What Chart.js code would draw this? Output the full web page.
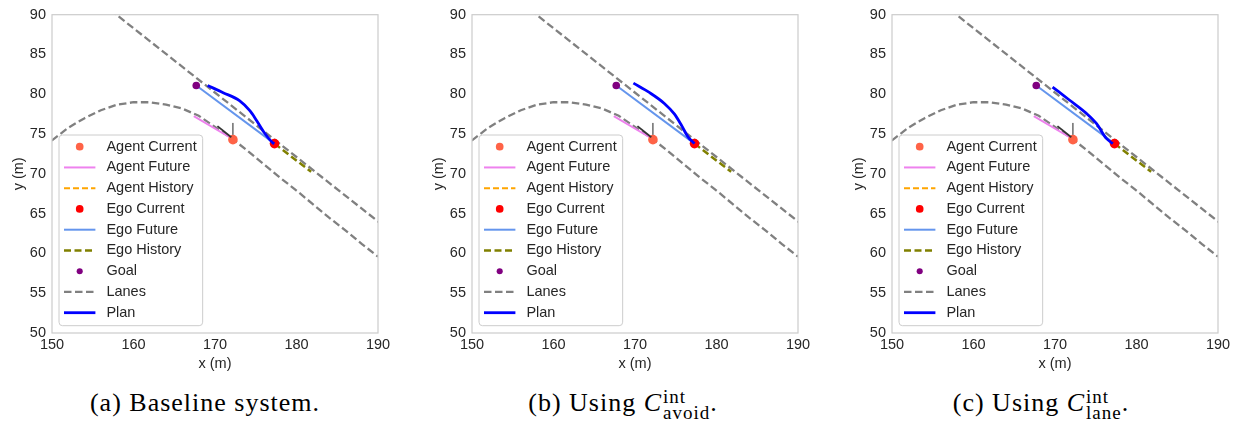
<!DOCTYPE html>
<html>
<head>
<meta charset="utf-8">
<script src="https://cdn.jsdelivr.net/npm/chart.js@4.4.1/dist/chart.umd.min.js"></script>
<style>
  body { margin: 0; background: #fff; width: 1238px; height: 426px; overflow: hidden; position: relative; }
  .panel { position: absolute; top: 0; width: 420px; height: 380px; }
  .cap { position: absolute; top: 388px; width: 420px; text-align: center; white-space: nowrap;
         font-family: 'Liberation Serif', 'Times New Roman', serif; font-size: 26px; line-height: 30px;
         letter-spacing: 1px; color: #000; }
  .ss { display: inline-block; vertical-align: -8px; font-size: 19px; line-height: 16px; letter-spacing: 1px; text-align: left; margin-left: 1px; }
  .ss span { display: block; }
</style>
</head>
<body>
<canvas id="chartA" class="panel" width="420" height="380" style="left:0px"></canvas>
<canvas id="chartB" class="panel" width="420" height="380" style="left:420px"></canvas>
<canvas id="chartC" class="panel" width="420" height="380" style="left:840px"></canvas>
<div class="cap" style="left:-5px">(a) Baseline system.</div>
<div class="cap" style="left:413px">(b) Using <i>C</i><span class="ss"><span>int</span><span>avoid</span></span>.</div>
<div class="cap" style="left:831px">(c) Using <i>C</i><span class="ss"><span>int</span><span>lane</span></span>.</div>
<script>
const FONT = "'Liberation Sans', Arial, sans-serif";
const TEXT = '#262626';

// axis ranges
const xRange = [150, 190];
const yRange = [50, 90];

// scene (same in all three panels), [x, y] in metres
const agentCurrent = [[172.2, 74.3]];
const agentFuture = [[167.4, 77.25], [171.8, 74.6]];
const agentHistory = [[172.1, 74.4], [172.6, 74.05]];
const egoCurrent = [[177.3, 73.8]];
const egoFuture = [[167.7, 81.1], [177.3, 73.8]];
const egoHistory = [[177.3, 73.8], [181.8, 70.25]];
const goal = [[167.7, 81.1]];
const laneUpper = [[155, 92.35], [192, 62.4]];
const laneLower = [[148, 72.3], [150, 74.2], [152, 75.8], [154, 77.0], [156, 78.0], [158, 78.7],
  [160, 79.0], [162, 79.0], [164, 78.7], [166, 78.2], [168, 77.3], [170, 75.9], [172, 74.5],
  [174, 72.9], [176, 71.2], [178, 69.5], [180, 67.9], [182, 66.2], [184, 64.5], [186, 62.9],
  [188, 61.2], [190, 59.6], [192, 57.9]];
const headingArrow = [[170.3, 76.0], [172.0, 74.6]];
const velocityArrow = [[172.2, 74.9], [172.2, 76.4]];

// the plan differs per panel
const planA = [[169.1, 81.1], [171.0, 80.2], [173.0, 79.2], [174.3, 77.9], [175.1, 76.7],
  [176.1, 75.1], [177.1, 73.9], [177.3, 73.8]];
const planB = [[169.8, 81.4], [171.8, 80.2], [173.6, 78.85], [174.85, 77.5], [175.7, 76.1],
  [176.5, 74.65], [177.3, 73.8]];
const planC = [[169.7, 80.9], [171.8, 79.25], [173.85, 77.6], [175.1, 76.3], [176.3, 74.45],
  [177.1, 73.8]];

const pts = arr => arr.map(p => ({ x: p[0], y: p[1] }));

function line(label, data, color, width, dash, order, extra) {
  return Object.assign({ label, data: pts(data), showLine: true, borderColor: color, backgroundColor: color,
    borderWidth: width, borderDash: dash || [], pointRadius: 0, order, tension: 0 }, extra || {});
}
function dots(label, data, color, r, order) {
  return { label, data: pts(data), showLine: false, backgroundColor: color, borderColor: color,
    borderWidth: 0, pointRadius: r, legendRadius: r * 0.8, order };
}

function makeDatasets(plan) {
  return [
    dots('Agent Current', agentCurrent, '#FF6347', 4.8, 2),
    line('Agent Future', agentFuture, '#EE82EE', 2, null, 7),
    line('Agent History', agentHistory, '#FFA500', 2, [6, 3], 5),
    dots('Ego Current', egoCurrent, '#FF0000', 4.8, 3),
    line('Ego Future', egoFuture, '#6495ED', 2, null, 6),
    line('Ego History', egoHistory, '#808000', 2.5, [7, 3.5], 8),
    dots('Goal', goal, '#800080', 3.8, 4),
    line('Lanes', laneUpper, '#808080', 2.3, [7.5, 3.5], 10),
    line('Plan', plan, '#0000FF', 2.8, null, 0, { cubicInterpolationMode: 'monotone' }),
    line('lane2', laneLower, '#808080', 2.3, [7.5, 3.5], 10, { noLegend: true }),
    line('heading', headingArrow, '#333333', 1.8, null, 1, { noLegend: true }),
    line('velocity', velocityArrow, '#222222', 1, null, 1, { noLegend: true })
  ];
}

const frame = {
  id: 'frame',
  afterDatasetsDraw(chart) {
    const a = chart.chartArea, ctx = chart.ctx;
    ctx.save();
    ctx.strokeStyle = '#cccccc';
    ctx.lineWidth = 1.2;
    ctx.strokeRect(a.left, a.top, a.right - a.left, a.bottom - a.top);
    ctx.restore();
  }
};

const legendBox = {
  id: 'legendBox',
  afterDraw(chart) {
    const ctx = chart.ctx, a = chart.chartArea;
    const items = chart.data.datasets.filter(d => !d.noLegend);
    const rowH = 20.75;
    ctx.save();
    ctx.font = '14.5px ' + FONT;
    const textW = Math.max(...items.map(d => ctx.measureText(d.label).width));
    const left = a.left + 7;
    const textX = left + 47.4;
    const w = textX - left + textW + 6;
    const h = 11.7 + rowH * (items.length - 1) + 13;
    const top = a.bottom - 7.3 - h;
    const r = 3.5;
    ctx.beginPath();
    ctx.moveTo(left + r, top);
    ctx.arcTo(left + w, top, left + w, top + h, r);
    ctx.arcTo(left + w, top + h, left, top + h, r);
    ctx.arcTo(left, top + h, left, top, r);
    ctx.arcTo(left, top, left + w, top, r);
    ctx.closePath();
    ctx.fillStyle = 'rgba(255,255,255,0.8)';
    ctx.fill();
    ctx.strokeStyle = '#cccccc';
    ctx.lineWidth = 1;
    ctx.stroke();
    items.forEach((d, i) => {
      const cy = top + 11.7 + i * rowH;
      if (d.showLine) {
        ctx.beginPath();
        ctx.setLineDash(d.borderDash || []);
        ctx.strokeStyle = d.borderColor;
        ctx.lineWidth = d.borderWidth;
        ctx.moveTo(left + 5, cy);
        ctx.lineTo(left + 36.4, cy);
        ctx.stroke();
        ctx.setLineDash([]);
      } else {
        ctx.beginPath();
        ctx.fillStyle = d.backgroundColor;
        ctx.arc(left + 20.7, cy, d.legendRadius, 0, Math.PI * 2);
        ctx.fill();
      }
      ctx.fillStyle = TEXT;
      ctx.textBaseline = 'middle';
      ctx.textAlign = 'left';
      ctx.fillText(d.label, textX, cy);
    });
    ctx.restore();
  }
};

function axisFont() { return { family: FONT, size: 14.5 }; }

function drawPanel(id, plan) {
  new Chart(document.getElementById(id), {
    type: 'scatter',
    data: { datasets: makeDatasets(plan) },
    options: {
      responsive: false,
      animation: false,
      devicePixelRatio: 1,
      events: [],
      layout: { padding: { left: 0, right: 42, top: 9, bottom: 0 } },
      plugins: { legend: { display: false }, tooltip: { enabled: false } },
      scales: {
        x: {
          type: 'linear', min: xRange[0], max: xRange[1],
          ticks: { stepSize: 10, padding: 3, color: TEXT, font: axisFont(), maxRotation: 0 },
          grid: { display: false, drawTicks: false },
          border: { display: false },
          title: { display: true, text: 'x (m)', color: TEXT, font: axisFont(), padding: { top: 0, bottom: 7 } },
          afterFit: s => { s.height = 47; }
        },
        y: {
          type: 'linear', min: yRange[0], max: yRange[1],
          ticks: { stepSize: 5, padding: 6, color: TEXT, font: axisFont() },
          grid: { display: false, drawTicks: false },
          border: { display: false },
          title: { display: true, text: 'y (m)', color: TEXT, font: axisFont(), padding: { top: 10, bottom: 0 } },
          afterFit: s => { s.width = 52; }
        }
      }
    },
    plugins: [frame, legendBox]
  });
}

drawPanel('chartA', planA);
drawPanel('chartB', planB);
drawPanel('chartC', planC);
</script>
</body>
</html>
